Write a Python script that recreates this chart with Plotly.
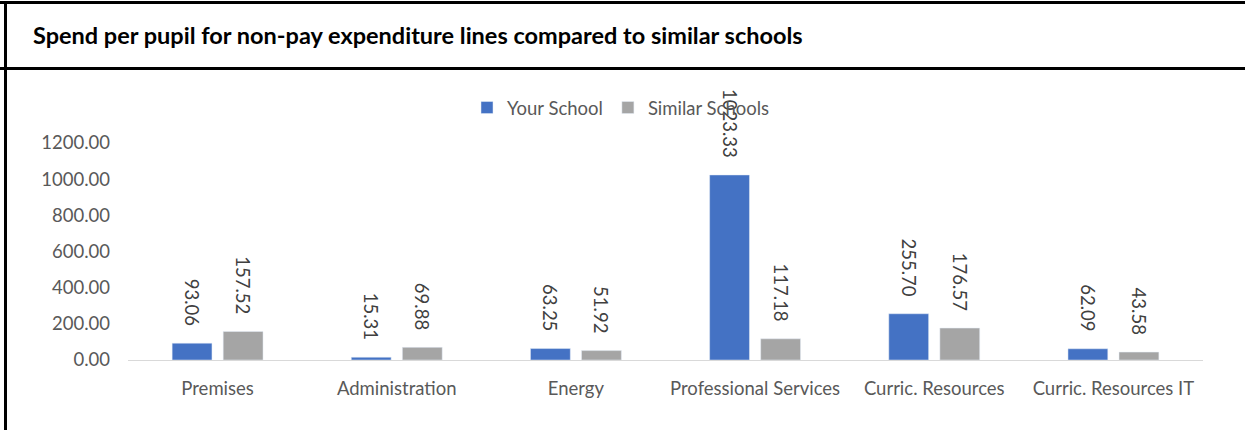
import plotly.graph_objects as go

categories = ["Premises", "Administration", "Energy", "Professional Services",
              "Curric. Resources", "Curric. Resources IT"]
your_school = [93.06, 15.31, 63.25, 1023.33, 255.70, 62.09]
similar_schools = [157.52, 69.88, 51.92, 117.18, 176.57, 43.58]
y_ticks = [0, 200, 400, 600, 800, 1000, 1200]
title_text = "Spend per pupil for non-pay expenditure lines compared to similar schools"

W, H = 1245, 430
ML, MR, MT, MB = 128, 42, 143, 70
PW, PH = W - ML - MR, H - MT - MB

def px(xp):
    return (xp - ML) / PW

def py(yp):
    return (H - MB - yp) / PH

FONT = "Lato"
FS = 18.5
PAD = "\u00a0\u00a0\u00a0"

fig = go.Figure()
fig.add_trace(go.Bar(
    name="Your School", x=categories, y=your_school,
    marker_color="#4472C4",
    texttemplate="%{y:.2f}" + PAD, textposition="outside", textangle=90,
    textfont=dict(family=FONT, size=FS, color="#404040"),
    constraintext="none", cliponaxis=False,
))
fig.add_trace(go.Bar(
    name="Similar Schools", x=categories, y=similar_schools,
    marker_color="#A5A5A5",
    texttemplate="%{y:.2f}" + PAD, textposition="outside", textangle=90,
    textfont=dict(family=FONT, size=FS, color="#404040"),
    constraintext="none", cliponaxis=False,
))

shapes = [
    dict(type="line", xref="paper", yref="paper", x0=px(0), x1=px(W), y0=py(2.5), y1=py(2.5),
         line=dict(color="black", width=3)),
    dict(type="line", xref="paper", yref="paper", x0=px(0), x1=px(W), y0=py(68.5), y1=py(68.5),
         line=dict(color="black", width=3)),
    dict(type="line", xref="paper", yref="paper", x0=px(5.5), x1=px(5.5), y0=py(1), y1=py(H + 2),
         line=dict(color="black", width=3)),
]

fig.update_layout(
    width=W, height=H,
    margin=dict(l=ML, r=MR, t=MT, b=MB),
    paper_bgcolor="white", plot_bgcolor="white",
    barmode="group", bargap=0.43, bargroupgap=0.22,
    font=dict(family=FONT, size=FS, color="#595959"),
    showlegend=True,
    legend=dict(orientation="h", x=px(621), xanchor="center", y=py(108), yanchor="middle",
                font=dict(family=FONT, size=FS, color="#595959"),
                bgcolor="rgba(0,0,0,0)", itemwidth=30),
    xaxis=dict(showline=True, linecolor="#D9D9D9", linewidth=1, showgrid=False,
               ticks="", ticklabelstandoff=12,
               tickfont=dict(family=FONT, size=FS, color="#595959")),
    yaxis=dict(range=[0, 1200], tickvals=y_ticks, tickformat=".2f", showgrid=False,
               zeroline=False, showline=False, ticks="", ticklabelstandoff=17,
               tickfont=dict(family=FONT, size=FS, color="#595959")),
    shapes=shapes,
    annotations=[dict(text="<b>" + title_text + "</b>", xref="paper", yref="paper",
                      x=px(31), y=py(35), xanchor="left", yanchor="middle", showarrow=False,
                      font=dict(family=FONT, size=23.5, color="black"))],
)

fig.write_html("out.html")
